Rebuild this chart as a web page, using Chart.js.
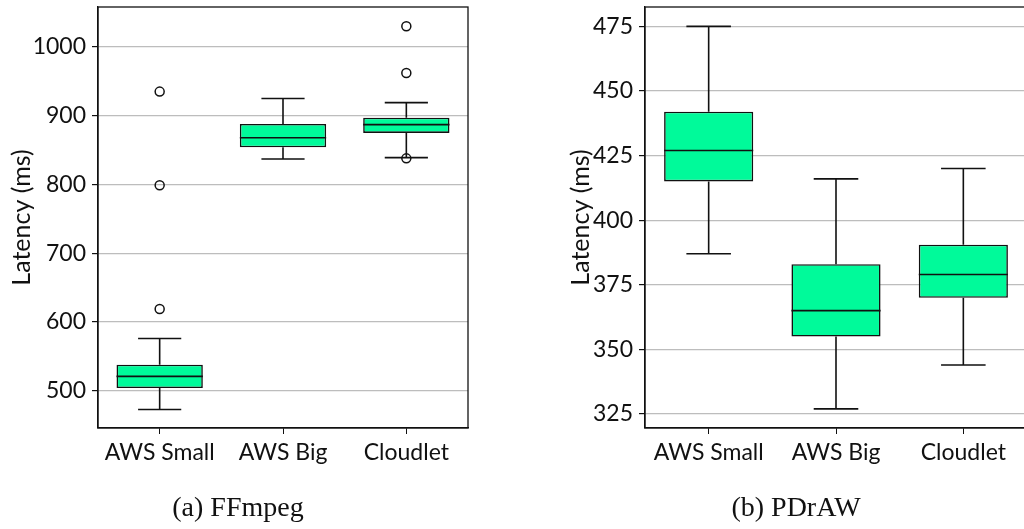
<!DOCTYPE html>
<html>
<head>
<meta charset="utf-8">
<script src="https://cdn.jsdelivr.net/npm/chart.js@4"></script>
<style>
  body { margin: 0; width: 1024px; height: 529px; overflow: hidden; background: #fff; position: relative; }
  canvas { position: absolute; top: 0; }
  #c1 { left: 0; }
  #c2 { left: 540px; }
  .caption { position: absolute; top: 491px; font-family: 'Liberation Serif', serif; font-size: 28px; color: #111; transform: translateX(-50%); white-space: nowrap; }
</style>
</head>
<body>
<canvas id="c1" width="480" height="529"></canvas>
<canvas id="c2" width="490" height="529"></canvas>
<div class="caption" style="left:238px">(a) FFmpeg</div>
<div class="caption" style="left:796px">(b) PDrAW</div>
<script>
const categories = ['AWS Small', 'AWS Big', 'Cloudlet'];

// (a) FFmpeg
const ffLow = [473, 837, 839];
const ffQ1 = [504, 854, 875];
const ffMed = [521, 868, 887];
const ffQ3 = [538, 888, 897];
const ffHigh = [576, 925, 919];
const ffOutliers = [[619, 799, 935], [], [838, 962, 1030]];
const ffTicks = [500, 600, 700, 800, 900, 1000];

// (b) PDrAW
const pdLow = [387, 327, 344];
const pdQ1 = [415, 355, 370];
const pdMed = [427, 365, 379];
const pdQ3 = [442, 383, 390.5];
const pdHigh = [475, 416, 420];
const pdOutliers = [[], [], []];
const pdTicks = [325, 350, 375, 400, 425, 450, 475];

const boxColor = 'rgb(0, 250, 154)';
const lineColor = '#111';
const tickFont = { family: 'Lato', size: 23 };
const titleFont = { family: 'Lato', size: 25 };

// whiskers, medians and the frame round the plot
const boxPlugin = {
  id: 'boxParts',
  afterDatasetsDraw(chart, args, opts) {
    const ctx = chart.ctx;
    const y = chart.scales.y;
    const meta = chart.getDatasetMeta(0);
    ctx.save();
    ctx.strokeStyle = lineColor;
    ctx.lineWidth = 1.6;
    meta.data.forEach((bar, i) => {
      const half = bar.width / 2;
      const cap = bar.width / 4;
      const x = bar.x;
      ctx.beginPath();
      ctx.moveTo(x - half, y.getPixelForValue(opts.med[i]));
      ctx.lineTo(x + half, y.getPixelForValue(opts.med[i]));
      ctx.moveTo(x, y.getPixelForValue(opts.q3[i]));
      ctx.lineTo(x, y.getPixelForValue(opts.high[i]));
      ctx.moveTo(x - cap, y.getPixelForValue(opts.high[i]));
      ctx.lineTo(x + cap, y.getPixelForValue(opts.high[i]));
      ctx.moveTo(x, y.getPixelForValue(opts.q1[i]));
      ctx.lineTo(x, y.getPixelForValue(opts.low[i]));
      ctx.moveTo(x - cap, y.getPixelForValue(opts.low[i]));
      ctx.lineTo(x + cap, y.getPixelForValue(opts.low[i]));
      ctx.stroke();
    });
    const a = chart.chartArea;
    ctx.lineWidth = 1.3;
    ctx.strokeRect(a.left, a.top, a.right - a.left, a.bottom - a.top);
    ctx.restore();
  }
};

function makeChart(id, s) {
  const outlierPoints = [];
  s.outliers.forEach((list, i) => list.forEach(v => outlierPoints.push({ x: categories[i], y: v })));
  return new Chart(document.getElementById(id), {
    type: 'bar',
    data: {
      labels: categories,
      datasets: [{
        data: s.q1.map((v, i) => [v, s.q3[i]]),
        backgroundColor: boxColor,
        borderColor: lineColor,
        borderWidth: 1.6,
        borderSkipped: false,
        barPercentage: 0.7,
        categoryPercentage: 1.0
      }, {
        type: 'scatter',
        data: outlierPoints,
        pointStyle: 'circle',
        pointRadius: 4.5,
        pointBackgroundColor: 'rgba(0,0,0,0)',
        pointBorderColor: lineColor,
        pointBorderWidth: 1.5
      }]
    },
    options: {
      responsive: false,
      animation: false,
      layout: { padding: { top: 7, right: s.padRight, left: 0, bottom: 0 } },
      plugins: {
        legend: { display: false },
        tooltip: { enabled: false },
        boxParts: { low: s.low, q1: s.q1, med: s.med, q3: s.q3, high: s.high }
      },
      scales: {
        x: {
          offset: true,
          grid: { offset: false, drawOnChartArea: false, tickLength: 6, tickColor: lineColor },
          border: { color: lineColor, width: 1.3 },
          ticks: { font: tickFont, color: '#111', padding: 5 },
          afterFit: sc => { sc.height = 101; sc.paddingLeft = 0; sc.paddingRight = 0; }
        },
        y: {
          min: s.min,
          max: s.max,
          afterBuildTicks: sc => { sc.ticks = s.ticks.map(v => ({ value: v })); },
          grid: { color: '#bdbdbd', lineWidth: 1.2, tickLength: 6, tickColor: lineColor },
          border: { color: lineColor, width: 1.3 },
          ticks: { font: tickFont, color: '#111', padding: 6, callback: v => String(v) },
          title: { display: true, text: 'Latency (ms)', font: titleFont, color: '#111', padding: { top: s.titlePad, bottom: 0 } },
          afterFit: sc => { sc.width = s.axisWidth; sc.paddingTop = 0; sc.paddingBottom = 0; }
        }
      }
    },
    plugins: [boxPlugin]
  });
}

makeChart('c1', {
  low: ffLow, q1: ffQ1, med: ffMed, q3: ffQ3, high: ffHigh, outliers: ffOutliers,
  ticks: ffTicks, min: 446, max: 1058, axisWidth: 98, padRight: 12, titlePad: 7
});
makeChart('c2', {
  low: pdLow, q1: pdQ1, med: pdMed, q3: pdQ3, high: pdHigh, outliers: pdOutliers,
  ticks: pdTicks, min: 319.6, max: 482.5, axisWidth: 105, padRight: 3, titlePad: 26
});
</script>
</body>
</html>
